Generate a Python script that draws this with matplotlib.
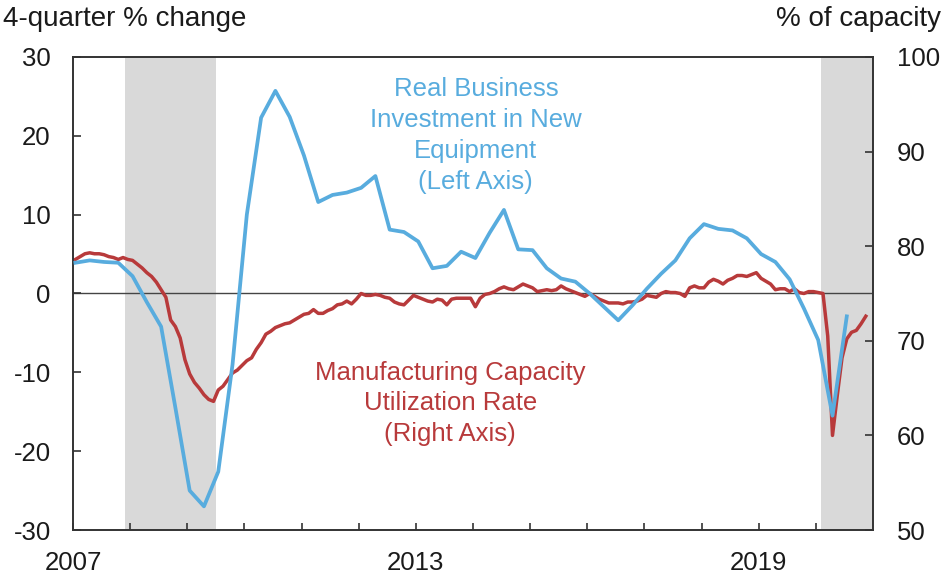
import numpy as np
import matplotlib.pyplot as plt

plt.rcParams['font.family'] = ['Liberation Sans', 'DejaVu Sans']
plt.rcParams['axes.unicode_minus'] = False

# real business investment in new equipment, 4-quarter % change, 2007Q1 - 2020Q3
invest = [3.9, 4.2, 4.0, 3.9,
          2.2, -1.1, -4.2, -14.5,
          -25.0, -27.0, -22.6, -9.0,
          10.0, 22.3, 25.7, 22.4,
          17.5, 11.6, 12.5, 12.8,
          13.4, 14.9, 8.1, 7.8,
          6.6, 3.2, 3.5, 5.3,
          4.5, 7.7, 10.6, 5.6,
          5.5, 3.2, 1.9, 1.5,
          0.0, -1.7, -3.4, -1.5,
          0.6, 2.5, 4.2, 7.0,
          8.8, 8.2, 8.0, 7.0,
          5.0, 4.0, 1.8, -1.9,
          -5.9, -15.5, -2.9]

# manufacturing capacity utilization, % of capacity, monthly Jan 2007 - Nov 2020
util = [78.6, 78.9, 79.2, 79.3, 79.2, 79.2, 79.1, 78.9, 78.8, 78.6, 78.8, 78.6,
        78.5, 78.1, 77.7, 77.2, 76.8, 76.2, 75.4, 74.6, 72.2, 71.5, 70.3, 68.0,
        66.5, 65.6, 65.0, 64.3, 63.8, 63.6, 64.8, 65.2, 65.9, 66.6, 66.9, 67.4,
        67.9, 68.2, 69.1, 69.8, 70.7, 71.0, 71.4, 71.6, 71.8, 71.9, 72.2, 72.5,
        72.8, 72.9, 73.3, 72.9, 72.9, 73.2, 73.4, 73.8, 73.9, 74.2, 73.9, 74.4,
        75.0, 74.8, 74.8, 74.9, 74.8, 74.6, 74.5, 74.1, 73.9, 73.8, 74.3, 74.8,
        74.6, 74.4, 74.2, 74.1, 74.4, 74.3, 73.8, 74.4, 74.5, 74.5, 74.5, 74.5,
        73.6, 74.5, 74.9, 75.0, 75.2, 75.5, 75.7, 75.5, 75.4, 75.7, 76.0, 75.8,
        75.6, 75.2, 75.3, 75.4, 75.3, 75.4, 75.8, 75.5, 75.3, 75.1, 74.9, 74.7,
        75.0, 74.7, 74.4, 74.2, 74.0, 74.0, 74.0, 73.9, 74.1, 74.1, 74.2, 74.4,
        74.8, 74.7, 74.6, 75.0, 75.2, 75.1, 75.1, 75.0, 74.7, 75.6, 75.8, 75.6,
        75.6, 76.2, 76.5, 76.3, 76.0, 76.4, 76.6, 76.9, 76.9, 76.8, 77.0, 77.2,
        76.6, 76.3, 76.0, 75.4, 75.5, 75.5, 75.2, 75.5, 75.1, 75.0, 75.2, 75.2,
        75.1, 75.0, 70.5, 60.0, 64.2, 68.2, 70.2, 70.9, 71.1, 71.8, 72.6]

recessions = [(2007 + 11 / 12, 2009 + 6 / 12), (2020 + 1 / 12, 2021)]
year_ticks = list(range(2007, 2021))
year_labels = ['2007', '2013', '2019']

blue = '#58acde'
red = '#b83a3b'

q_x = 2007 + (3 * np.arange(len(invest)) + 0.5) / 12
m_x = 2007 + (np.arange(len(util)) + 0.5) / 12

fig = plt.figure(figsize=(9.46, 5.79), dpi=100)
ax2 = fig.add_axes([0.0772, 0.0846, 0.8456, 0.817])
ax = ax2.twinx()
ax.yaxis.tick_left()
ax2.yaxis.tick_right()
ax.set_zorder(ax2.get_zorder() + 1)
ax.patch.set_visible(False)

for start, end in recessions:
    ax2.axvspan(start, end, color='#d9d9d9', lw=0, zorder=0)
ax2.axhline(75, color='#444444', lw=1.0, zorder=1)
ax2.plot(m_x, util, color=red, lw=2.5, zorder=2)
ax.plot(q_x, invest, color=blue, lw=2.7, zorder=3)

ax.set_xlim(2007, 2021)
ax.set_ylim(-30, 30)
ax2.set_ylim(50, 100)
ax.set_yticks(range(-30, 31, 10))
ax2.set_yticks(range(50, 101, 10))
ax2.set_xticks(year_ticks)
ax2.set_xticklabels([str(y) if str(y) in year_labels else '' for y in year_ticks])

for a in (ax, ax2):
    for s in a.spines.values():
        s.set_color('#333333')
        s.set_linewidth(1.2)
ax.tick_params(axis='y', direction='in', length=6, width=1.2, color='#333333',
               labelsize=18.5, pad=16, labelcolor='#1a1a1a')
ax2.tick_params(axis='y', direction='in', length=6, width=1.2, color='#333333',
                labelsize=18.5, pad=17, labelcolor='#1a1a1a')
ax2.tick_params(axis='x', direction='in', length=5, width=1.2, color='#333333',
                labelsize=18.5, pad=15, labelcolor='#1a1a1a')

ax.text(2014.05, 27.4, 'Real Business\nInvestment in New\nEquipment\n(Left Axis)',
        color=blue, fontsize=18.5, ha='center', va='top', linespacing=1.36)
ax.text(2013.6, -8.5, 'Manufacturing Capacity\nUtilization Rate\n(Right Axis)',
        color=red, fontsize=18.5, ha='center', va='top', linespacing=1.36)

fig.text(0.003, 0.967, '4-quarter % change', fontsize=20, ha='left', va='center',
         color='#1a1a1a')
fig.text(0.995, 0.967, '% of capacity', fontsize=20, ha='right', va='center',
         color='#1a1a1a')

fig.savefig('out.png', dpi=100, facecolor='white')
